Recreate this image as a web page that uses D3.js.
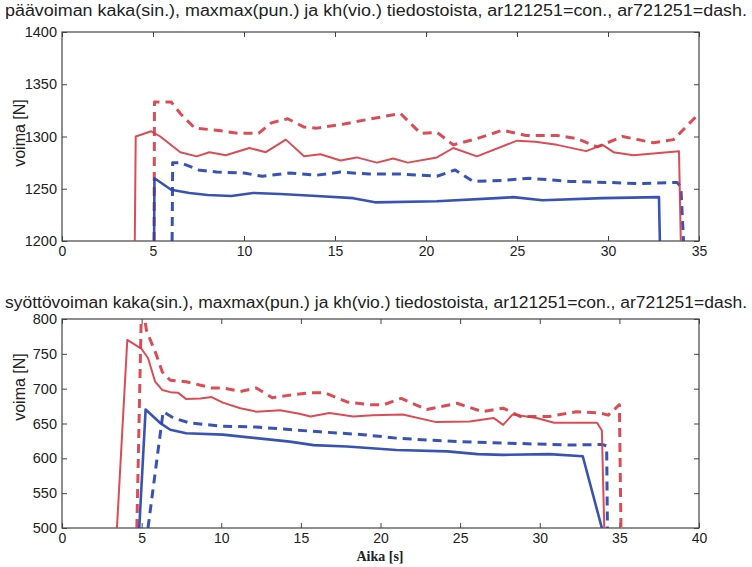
<!DOCTYPE html>
<html>
<head>
<meta charset="utf-8">
<script src="https://cdn.jsdelivr.net/npm/d3@7"></script>
<style>
  body { margin: 0; background: #fff; }
  text { font-family: "Liberation Sans", Arial, sans-serif; fill: #222; }
</style>
</head>
<body>
<svg id="chart" width="752" height="567"></svg>
<script>
/* Data: [time s, force N] */
var mainTitle = 'päävoiman kaka(sin.), maxmax(pun.) ja kh(vio.) tiedostoista, ar121251=con., ar721251=dash.';
var feedTitle = 'syöttövoiman kaka(sin.), maxmax(pun.) ja kh(vio.) tiedostoista, ar121251=con., ar721251=dash.';

var mainXTicks = [0, 5, 10, 15, 20, 25, 30, 35];
var mainYTicks = [1200, 1250, 1300, 1350, 1400];
var feedXTicks = [0, 5, 10, 15, 20, 25, 30, 35, 40];
var feedYTicks = [500, 550, 600, 650, 700, 750, 800];

// paavoima, maxmax (red)
var mainMaxCon = [[4.0, 1200], [4.05, 1300], [4.9, 1305], [5.4, 1300], [6.5, 1285], [7.4, 1281], [8.1, 1285],
    [9.0, 1282], [10.3, 1289], [11.2, 1285], [12.3, 1297], [13.3, 1281], [14.2, 1283], [15.3, 1277],
    [16.2, 1280], [17.3, 1275], [18.2, 1279], [19.0, 1275], [20.6, 1280], [21.5, 1289], [22.8, 1281],
    [25.0, 1296], [26.0, 1295], [27.2, 1292], [28.8, 1286], [29.7, 1292], [30.3, 1285], [31.4, 1282],
    [33.9, 1286], [34.0, 1200]];
var mainMaxDash = [[5.06, 1200], [5.08, 1333], [6.0, 1333], [6.5, 1322], [7.3, 1308], [8.5, 1306],
    [9.7, 1303], [10.8, 1303], [11.5, 1313], [12.4, 1317], [13.3, 1309], [14.0, 1308], [15.5, 1312],
    [17.0, 1317], [18.6, 1322], [19.7, 1303], [20.6, 1304], [21.5, 1292], [22.8, 1298], [24.2, 1306],
    [25.5, 1301], [27.2, 1301], [28.3, 1298], [29.4, 1290], [30.8, 1300], [32.5, 1294], [33.6, 1297],
    [35.0, 1322]];
// paavoima, kaka (blue)
var mainKakaCon = [[5.06, 1200], [5.08, 1260], [6.0, 1249], [7.0, 1246], [8.0, 1244], [9.3, 1243],
    [10.5, 1246], [12.0, 1245], [14.0, 1243], [16.0, 1241], [17.2, 1237], [20.6, 1238], [23.9, 1241],
    [24.8, 1242], [26.4, 1239], [29.7, 1241], [32.8, 1242], [32.85, 1200]];
var mainKakaDash = [[6.05, 1200], [6.08, 1275], [6.5, 1275], [7.5, 1268], [8.5, 1266], [10.0, 1265],
    [11.0, 1262], [12.5, 1265], [14.0, 1263], [15.3, 1266], [16.9, 1264], [18.7, 1264], [20.6, 1262],
    [21.6, 1268], [22.6, 1257], [24.2, 1258], [25.7, 1260], [27.9, 1257], [30.1, 1256], [31.6, 1255],
    [33.8, 1256], [34.0, 1252], [34.15, 1200]];

// syottovoima, maxmax (red)
var feedMaxCon = [[3.45, 500], [4.1, 770], [5.0, 757], [5.4, 744], [5.85, 710], [6.3, 698], [6.8, 695],
    [7.3, 694], [7.8, 685], [8.7, 686], [9.4, 688], [10.1, 680], [11.2, 672], [12.2, 667], [13.7, 669],
    [14.9, 664], [15.6, 660], [16.8, 665], [18.3, 660], [19.5, 662], [21.4, 663], [23.5, 652],
    [25.6, 653], [27.1, 658], [27.7, 648], [28.3, 663], [29.8, 658], [30.9, 651], [33.6, 651],
    [33.9, 640], [34.05, 500]];
var feedMaxDash = [[4.7, 500], [5.0, 830], [5.3, 784], [5.9, 750], [6.3, 724], [6.8, 712], [7.8, 710],
    [8.7, 705], [9.4, 701], [10.1, 701], [11.2, 696], [12.2, 701], [13.2, 687], [14.1, 690], [15.5, 694],
    [16.5, 694], [17.9, 681], [19.3, 677], [20.2, 677], [21.3, 686], [22.9, 670], [24.8, 679],
    [26.4, 667], [27.7, 672], [28.8, 660], [30.6, 660], [32.3, 667], [33.8, 665], [34.3, 662],
    [35.0, 677], [35.1, 500]];
// syottovoima, kaka (blue)
var feedKakaCon = [[4.85, 500], [5.25, 670], [6.15, 651], [6.8, 641], [7.8, 636], [10.1, 634],
    [12.2, 629], [14.3, 624], [15.8, 619], [17.9, 617], [21.0, 612], [24.2, 610], [26.1, 606],
    [27.7, 605], [30.6, 606], [32.7, 603], [33.9, 500]];
var feedKakaDash = [[5.4, 500], [6.35, 667], [7.0, 658], [8.0, 651], [10.1, 646], [12.2, 645],
    [13.9, 642], [16.2, 638], [18.9, 634], [21.0, 629], [23.1, 626], [26.1, 623], [27.7, 622],
    [31.9, 619], [33.9, 620], [34.2, 618], [34.25, 500]];

var red = '#d63a44';
var blue = '#2340ad';

var svg = d3.select('#chart');

/** Draws one MATLAB-like panel with inward ticks on all four sides. */
var drawPanel = function(opt) {
    var x = d3.scaleLinear().domain(opt.xDomain).range([62, 699]);
    var y = d3.scaleLinear().domain(opt.yDomain).range([opt.bottom, opt.top]);
    var g = svg.append('g');

    g.append('clipPath')
        .attr('id', opt.id)
        .append('rect')
        .attr('x', 62).attr('y', opt.top)
        .attr('width', 637).attr('height', opt.bottom - opt.top);

    // Axes: inward ticks
    var tickStyle = function(sel) {
        sel.select('.domain').remove();
        sel.selectAll('.tick line').attr('stroke', '#444');
    };
    g.append('g')
        .attr('transform', 'translate(0,' + opt.bottom + ')')
        .call(d3.axisBottom(x).tickValues(opt.xTicks).tickSize(-5).tickPadding(4))
        .call(tickStyle)
        .selectAll('text')
        .attr('font-size', 14)
        .attr('dy', '0.75em');
    g.append('g')
        .attr('transform', 'translate(0,' + opt.top + ')')
        .call(d3.axisTop(x).tickValues(opt.xTicks).tickSize(-5).tickFormat(''))
        .call(tickStyle);
    g.append('g')
        .attr('transform', 'translate(62,0)')
        .call(d3.axisLeft(y).tickValues(opt.yTicks).tickSize(-5).tickPadding(5)
            .tickFormat(d3.format('d')))
        .call(tickStyle)
        .selectAll('text')
        .attr('font-size', 14.5);
    g.append('g')
        .attr('transform', 'translate(699,0)')
        .call(d3.axisRight(y).tickValues(opt.yTicks).tickSize(-5).tickFormat(''))
        .call(tickStyle);

    g.append('rect')
        .attr('x', 62).attr('y', opt.top)
        .attr('width', 637).attr('height', opt.bottom - opt.top)
        .attr('fill', 'none')
        .attr('stroke', '#444')
        .attr('stroke-width', 1.2);

    var line = d3.line()
        .x(function(d) { return x(d[0]); })
        .y(function(d) { return y(d[1]); });

    var lines = g.append('g').attr('clip-path', 'url(#' + opt.id + ')');
    opt.series.forEach(function(s) {
        lines.append('path')
            .datum(s.data)
            .attr('d', line)
            .attr('fill', 'none')
            .attr('stroke', s.color)
            .attr('stroke-width', s.dash ? 3 : (s.color === blue ? 2.6 : 2))
            .attr('stroke-dasharray', s.dash ? '9,6' : null)
            .attr('stroke-linejoin', 'round')
            .attr('opacity', 0.9);
    });

    svg.append('text')
        .attr('x', 376)
        .attr('y', opt.titleY)
        .attr('text-anchor', 'middle')
        .attr('font-size', 16)
        .attr('textLength', 742)
        .attr('lengthAdjust', 'spacingAndGlyphs')
        .text(opt.title);

    svg.append('text')
        .attr('transform', 'translate(25,' + opt.labelY + ') rotate(-90)')
        .attr('text-anchor', 'middle')
        .attr('font-size', 16)
        .text('voima [N]');
};

drawPanel({
    id: 'clipMain', top: 32, bottom: 241, titleY: 16, labelY: 133,
    xDomain: [0, 35], yDomain: [1200, 1400],
    xTicks: mainXTicks, yTicks: mainYTicks, title: mainTitle,
    series: [
        { data: mainMaxDash, color: red, dash: true },
        { data: mainKakaDash, color: blue, dash: true },
        { data: mainMaxCon, color: red },
        { data: mainKakaCon, color: blue }
    ]
});

drawPanel({
    id: 'clipFeed', top: 319, bottom: 528, titleY: 308, labelY: 387,
    xDomain: [0, 40], yDomain: [500, 800],
    xTicks: feedXTicks, yTicks: feedYTicks, title: feedTitle,
    series: [
        { data: feedMaxDash, color: red, dash: true },
        { data: feedKakaDash, color: blue, dash: true },
        { data: feedMaxCon, color: red },
        { data: feedKakaCon, color: blue }
    ]
});

svg.append('text')
    .attr('x', 380)
    .attr('y', 561)
    .attr('text-anchor', 'middle')
    .style('font-family', '"Liberation Serif", "DejaVu Serif", serif')
    .attr('font-weight', 'bold')
    .attr('font-size', 14)
    .text('Aika [s]');
</script>
</body>
</html>
